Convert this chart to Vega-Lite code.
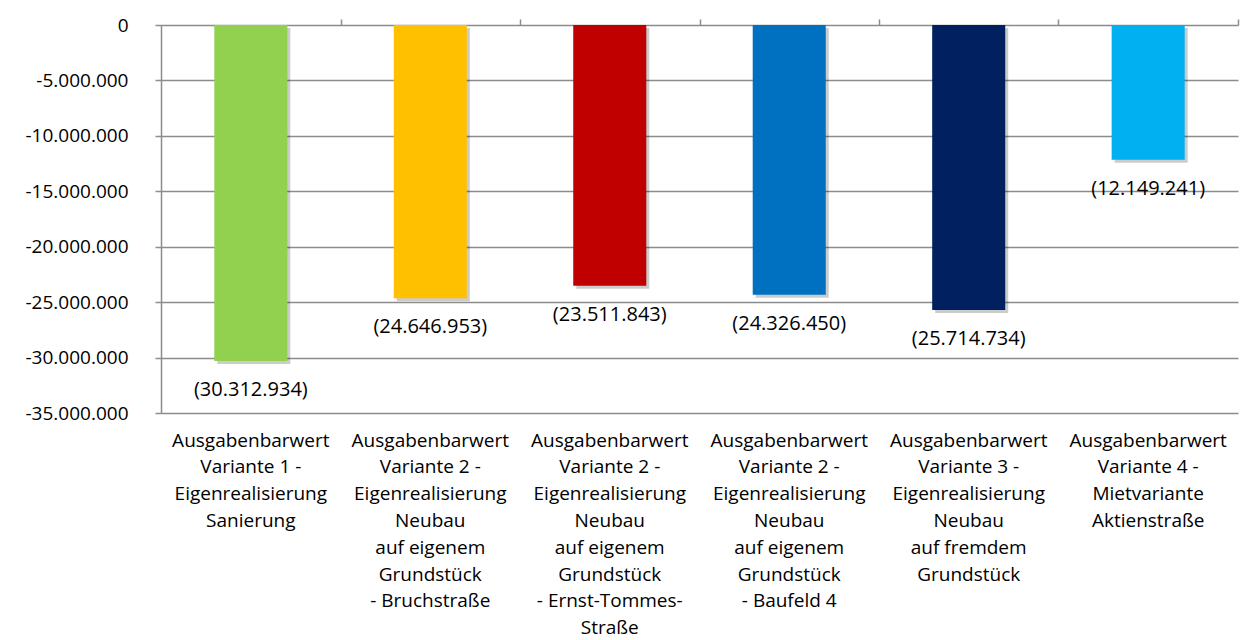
{
  "$schema": "https://vega.github.io/schema/vega-lite/v6.json",
  "autosize": {"type": "none"},
  "width": 1077,
  "height": 388,
  "padding": {"left": 161, "top": 25, "right": 15, "bottom": 227},
  "background": "white",
  "config": {
    "locale": {"number": {"decimal": ",", "thousands": ".", "grouping": [3], "currency": ["", " €"], "minus": "-"}},
    "view": {"stroke": null},
    "font": "Open Sans"
  },
  "data": {
    "values": [
      {"cat": "Ausgabenbarwert|Variante 1 -|Eigenrealisierung|Sanierung", "value": -30312934, "label": "(30.312.934)", "grp": "a"},
      {"cat": "Ausgabenbarwert|Variante 2 -|Eigenrealisierung|Neubau|auf eigenem|Grundstück|- Bruchstraße", "value": -24646953, "label": "(24.646.953)", "grp": "b"},
      {"cat": "Ausgabenbarwert|Variante 2 -|Eigenrealisierung|Neubau|auf eigenem|Grundstück|- Ernst-Tommes-|Straße", "value": -23511843, "label": "(23.511.843)", "grp": "c"},
      {"cat": "Ausgabenbarwert|Variante 2 -|Eigenrealisierung|Neubau|auf eigenem|Grundstück|- Baufeld 4", "value": -24326450, "label": "(24.326.450)", "grp": "d"},
      {"cat": "Ausgabenbarwert|Variante 3 -|Eigenrealisierung|Neubau|auf fremdem|Grundstück", "value": -25714734, "label": "(25.714.734)", "grp": "e"},
      {"cat": "Ausgabenbarwert|Variante 4 -|Mietvariante|Aktienstraße", "value": -12149241, "label": "(12.149.241)", "grp": "f"}
    ]
  },
  "layer": [
    {
      "mark": {"type": "bar", "color": "#000000", "opacity": 0.2, "xOffset": 3, "yOffset": 3},
      "encoding": {
        "x": {"field": "cat", "type": "nominal", "sort": null, "scale": {"paddingInner": 0.593, "paddingOuter": 0.297}, "axis": null},
        "y": {
          "field": "value", "type": "quantitative", "title": null,
          "scale": {"domain": [-35000000, 0], "nice": false},
          "axis": {
            "values": [0, -5000000, -10000000, -15000000, -20000000, -25000000, -30000000, -35000000],
            "format": ",.0f", "grid": true, "domainColor": "#8c8c8c", "domainWidth": 1.5,
            "tickColor": "#8c8c8c", "tickSize": 6, "tickWidth": 1.5,
            "gridColor": "#8c8c8c", "gridWidth": 1.5, "gridOpacity": 1,
            "labelFontSize": 19, "labelColor": "#000000", "labelPadding": 27
          }
        }
      }
    },
    {
      "mark": {"type": "bar"},
      "encoding": {
        "x": {
          "field": "cat", "type": "nominal", "sort": null, "title": null,
          "axis": {
            "orient": "bottom", "domain": false, "ticks": false, "grid": false, "labelAngle": 0,
            "labelExpr": "split(datum.label, '|')", "labelPadding": 27, "labelLineHeight": 26.8,
            "labelFontSize": 19, "labelColor": "#000000", "labelLimit": 0, "labelOverlap": false,
            "labelBaseline": "middle"
          }
        },
        "y": {"field": "value", "type": "quantitative", "axis": null},
        "color": {
          "field": "grp", "type": "nominal", "legend": null,
          "scale": {"domain": ["a", "b", "c", "d", "e", "f"], "range": ["#92D050", "#FFC000", "#C00000", "#0070C0", "#002060", "#00B0F0"]}
        }
      }
    },
    {
      "mark": {"type": "text", "dy": 29, "fontSize": 20, "color": "#000000", "align": "center", "baseline": "middle"},
      "encoding": {
        "x": {
          "field": "cat", "type": "nominal", "sort": null, "title": null,
          "axis": {"orient": "top", "labels": false, "domain": false, "ticks": true, "tickOffset": 89.75, "tickSize": 6, "tickColor": "#8c8c8c", "tickWidth": 1.5, "grid": false}
        },
        "y": {"field": "value", "type": "quantitative", "axis": null},
        "text": {"field": "label"}
      }
    }
  ],
  "resolve": {"axis": {"x": "independent", "y": "independent"}}
}
